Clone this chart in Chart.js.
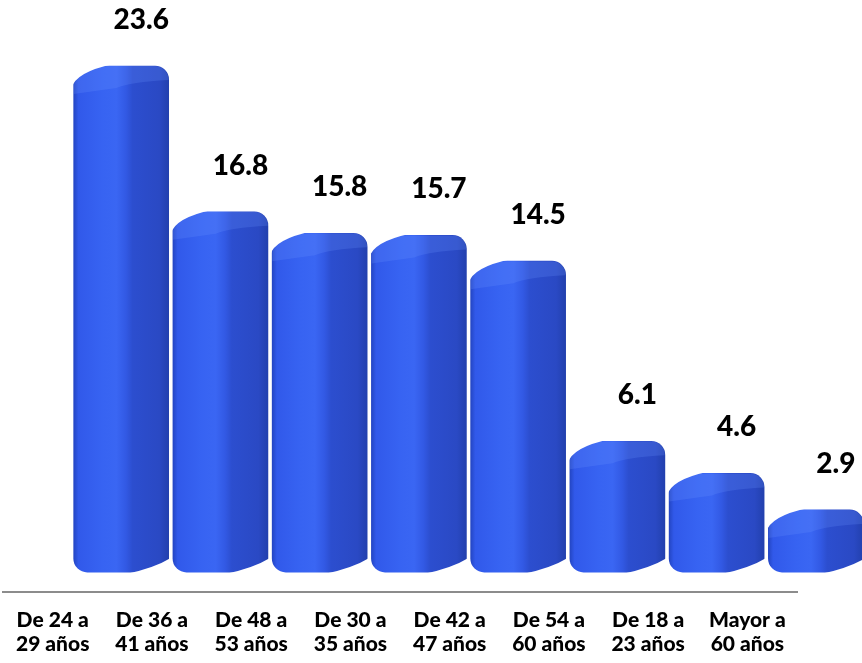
<!DOCTYPE html>
<html><head><meta charset="utf-8">
<script src="https://cdn.jsdelivr.net/npm/chart.js@4"></script>
<style>html,body{margin:0;padding:0;background:#fff;overflow:hidden}</style>
</head><body>
<canvas id="c" width="862" height="663"></canvas>
<script>
const categories = [
  ['De 24 a', '29 años'], ['De 36 a', '41 años'], ['De 48 a', '53 años'], ['De 30 a', '35 años'],
  ['De 42 a', '47 años'], ['De 54 a', '60 años'], ['De 18 a', '23 años'], ['Mayor a', '60 años']
];
const values = [23.6, 16.8, 15.8, 15.7, 14.5, 6.1, 4.6, 2.9];

const barPoints = values.map((v, i) => ({ x: i, y: v }));
const FONT = 'Lato';
const BAR_W = 95;

function barGradient(ctx) {
  const chart = ctx.chart;
  if (ctx.type !== 'data' || !chart.chartArea) return '#3460ee';
  const xs = chart.scales.xb;
  const cx = xs.getPixelForValue(ctx.dataIndex);
  const w = BAR_W;
  const g = chart.ctx.createLinearGradient(cx - w / 2, 0, cx + w / 2, 0);
  g.addColorStop(0, '#2446c4');
  g.addColorStop(0.05, '#3159ea');
  g.addColorStop(0.3, '#3763f2');
  g.addColorStop(0.45, '#3a66f3');
  g.addColorStop(0.55, '#3259e4');
  g.addColorStop(0.62, '#2c4ecf');
  g.addColorStop(0.9, '#2a49c4');
  g.addColorStop(1, '#2240ae');
  return g;
}

const bar3d = {
  id: 'bar3d',
  afterDatasetsDraw(chart) {
    const c = chart.ctx;
    const meta = chart.getDatasetMeta(0);
    meta.data.forEach((el) => {
      const { x, y, base, width } = el.getProps(['x', 'y', 'base', 'width'], true);
      const l = x - width / 2, r = x + width / 2;
      c.save();
      c.beginPath();
      c.roundRect(l, y, width, base - y, 14);
      c.clip();
      // top cap highlight
      c.fillStyle = 'rgba(110,150,255,0.22)';
      c.beginPath();
      c.moveTo(l, y); c.lineTo(r, y); c.lineTo(r, y + 14);
      c.quadraticCurveTo(l + 0.6 * width, y + 16, l + 0.45 * width, y + 22);
      c.lineTo(l, y + 28); c.closePath();
      c.fill();
      c.restore();
      // slanted top-left corner (background colour)
      c.save();
      c.fillStyle = '#fff';
      c.beginPath();
      c.moveTo(l - 2, y - 2); c.lineTo(l + 0.42 * width, y - 2);
      c.quadraticCurveTo(l + 0.02 * width, y + 6, l - 2, y + 22);
      c.closePath(); c.fill();
      // slanted bottom-right
      c.beginPath();
      c.moveTo(l + 0.55 * width, base + 2); c.lineTo(r + 2, base + 2);
      c.lineTo(r + 2, base - 14);
      c.quadraticCurveTo(r - 0.15 * width, base - 4, l + 0.55 * width, base + 2);
      c.closePath(); c.fill();
      c.restore();
    });
    // value labels
    c.save();
    c.fillStyle = '#000';
    c.font = '900 28px ' + FONT;
    c.textAlign = 'center';
    c.textBaseline = 'middle';
    meta.data.forEach((el, i) => {
      c.fillText(values[i].toFixed(1), el.x + 20, el.y - 46);
    });
    c.restore();
  }
};

new Chart(document.getElementById('c'), {
  type: 'bar',
  data: {
    labels: categories,
    datasets: [{
      data: barPoints,
      xAxisID: 'xb',
      yAxisID: 'y',
      backgroundColor: barGradient,
      borderRadius: 14,
      borderSkipped: false,
      barThickness: BAR_W,
      clip: false
    }]
  },
  options: {
    responsive: false,
    animation: false,
    devicePixelRatio: 1,
    layout: { padding: { left: 0, right: 65, top: 0, bottom: 0 } },
    plugins: { legend: { display: false }, tooltip: { enabled: false } },
    scales: {
      x: {
        type: 'category',
        position: 'bottom',
        offset: true,
        grid: { display: false, drawTicks: false },
        border: { display: true, color: '#8c8c8c', width: 2 },
        ticks: {
          color: '#000',
          font: { family: FONT, weight: '900', size: 21, lineHeight: 1.15 },
          padding: 16,
          maxRotation: 0,
          autoSkip: false
        },
        afterFit(s) { s.height = 71; }
      },
      xb: { type: 'linear', display: false, offset: false, min: -1.19, max: 6.81, grid: { offset: false } },
      y: { display: false, min: -0.93, max: 26.68 }
    }
  },
  plugins: [bar3d]
});
</script>
</body></html>
